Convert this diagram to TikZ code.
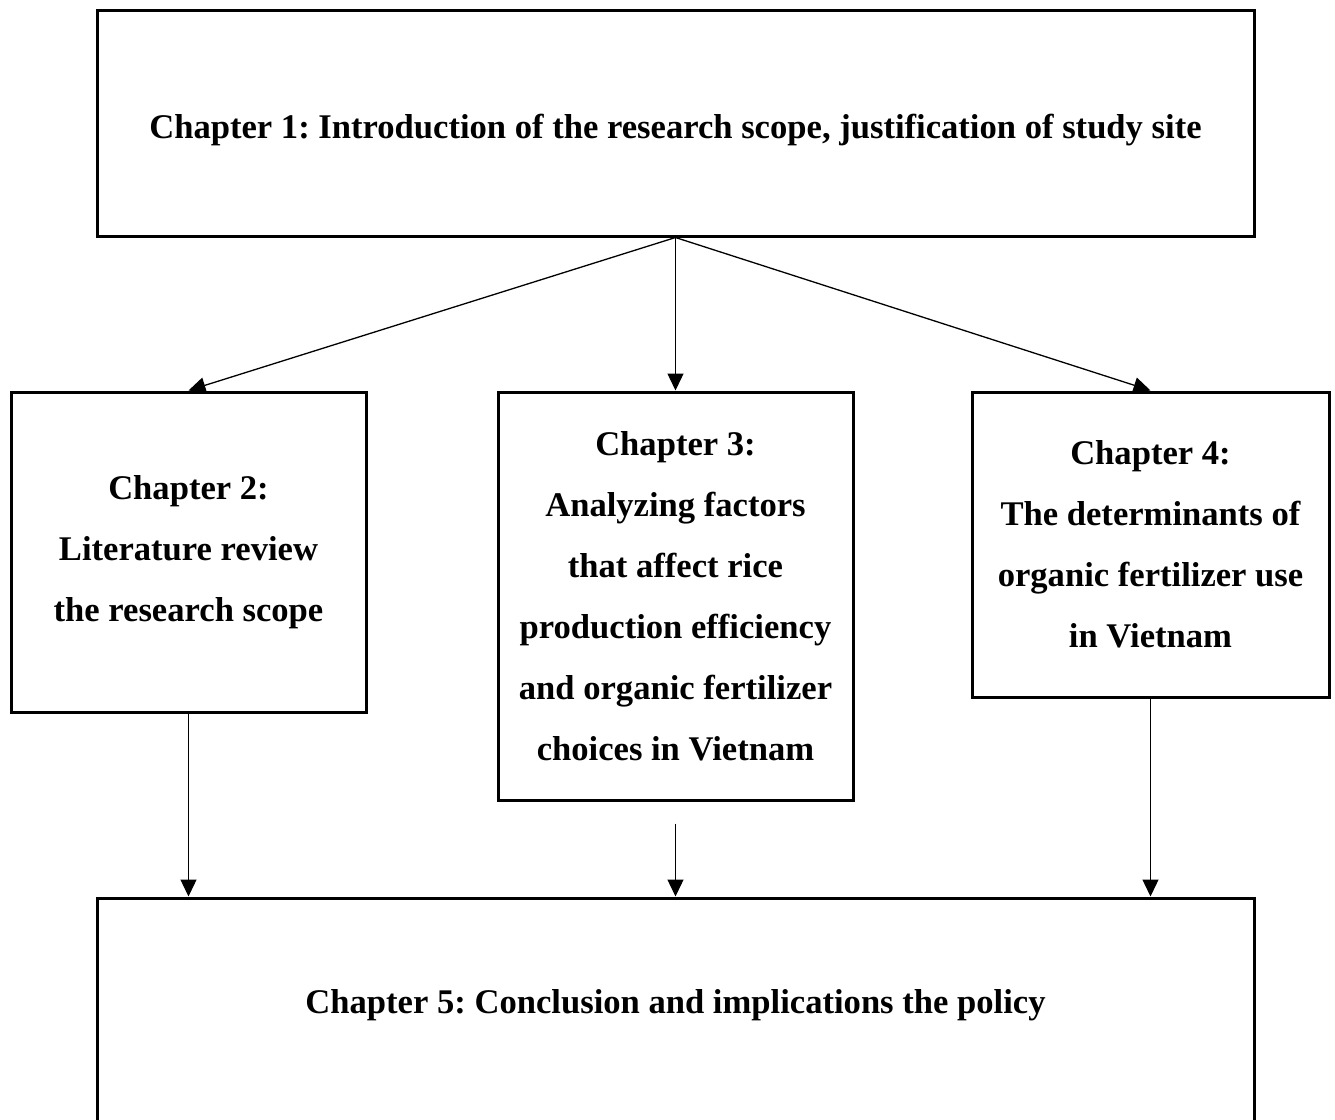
\documentclass[tikz,border=0pt]{standalone}
\usepackage{fontspec}
\setmainfont{Liberation Serif}
\usetikzlibrary{arrows.meta}
\frenchspacing

\begin{document}
\begin{tikzpicture}[x=0.5pt,y=-0.5pt,chapter/.style={draw,line width=1.5pt,align=center,inner sep=0pt,font=\bfseries\fontsize{17.3}{30.5}\selectfont},link/.style={line width=0.65pt,-{Triangle[length=8.5pt,width=8pt]}}]
  \useasboundingbox (0,0) rectangle (1335,1120);

  %chapter 1
  \node[chapter,name=ch1,at={(675.5,123)},minimum width=578.5pt,minimum height=113pt,text height=16pt,text depth=1pt]{Chapter 1: Introduction of the research scope, justification of study site};

  %chapters 2-4
  \node[chapter,name=ch2,at={(188.5,552)},minimum width=177.5pt,minimum height=160pt]{Chapter 2:\\Literature review\\the research scope};
  \node[chapter,name=ch3,at={(675.5,596)},minimum width=177.5pt,minimum height=204pt]{Chapter 3:\\Analyzing factors\\that affect rice\\production efficiency\\and organic fertilizer\\choices in Vietnam};
  \node[chapter,name=ch4,at={(1150.5,544.5)},minimum width=178.5pt,minimum height=152.5pt]{Chapter 4:\\The determinants of\\organic fertilizer use\\in Vietnam};

  %chapter 5
  \node[chapter,name=ch5,at={(675.5,1013)},minimum width=578.5pt,minimum height=115pt]{};
  \node[name=ch5text,anchor=base,at={(675.5,1013)},font=\bfseries\fontsize{17.3}{30.5}\selectfont]{Chapter 5: Conclusion and implications the policy};

  %links
  \draw[link] (ch1.south) -- (ch2.north);
  \draw[link] (ch1.south) -- (ch3.north);
  \draw[link] (ch1.south) -- (ch4.north);
  \coordinate (ch3out) at ([yshift=-11pt]ch3.south);
  \draw[link] (ch2.south) -- (ch2.south |- ch5.north);
  \draw[link] (ch3out) -- (ch3out |- ch5.north);
  \draw[link] (ch4.south) -- (ch4.south |- ch5.north);
\end{tikzpicture}
\end{document}
